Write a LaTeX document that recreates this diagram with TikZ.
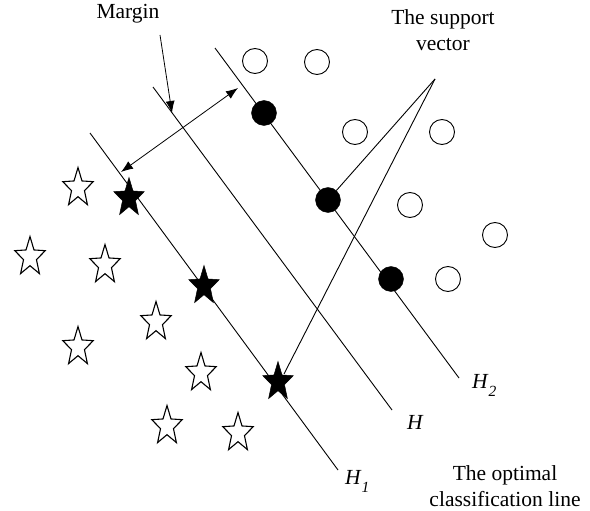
\documentclass[tikz,border=0pt]{standalone}
\usepackage{fontspec}
\setmainfont{Liberation Serif}
\usetikzlibrary{arrows.meta,calc}
\newcommand\drawstar[2]{%
  \draw[#1] ([shift={(-90:16 and 20.5)}]#2)
    -- ([shift={(-54:6.8 and 8.7)}]#2)
    -- ([shift={(-18:16 and 20.5)}]#2)
    -- ([shift={(18:6.8 and 8.7)}]#2)
    -- ([shift={(54:16 and 20.5)}]#2)
    -- ([shift={(90:6.8 and 8.7)}]#2)
    -- ([shift={(126:16 and 20.5)}]#2)
    -- ([shift={(162:6.8 and 8.7)}]#2)
    -- ([shift={(198:16 and 20.5)}]#2)
    -- ([shift={(234:6.8 and 8.7)}]#2)
    -- cycle;}
\newcommand\hsub[1]{\textit{H}\raisebox{-8pt}{\fontsize{15.5}{16}\selectfont\textit{#1}}}
\begin{document}
\begin{tikzpicture}[x=1pt,y=-1pt,
  hl/.style={line width=0.9pt},
  ocirc/.style={circle,draw,line width=0.9pt,fill=white,minimum size=25pt,inner sep=0pt},
  fcirc/.style={circle,draw,fill=black,minimum size=25pt,inner sep=0pt},
  ostar/.style={draw,line width=1.1pt,fill=white,line join=miter},
  fstar/.style={draw,line width=0.5pt,fill=black,line join=miter},
  lbl/.style={font=\fontsize{21.5}{26}\selectfont,align=center},
  arr/.style={-{Latex[length=12pt,width=9pt]},line width=0.8pt},
  darr/.style={{Latex[length=12pt,width=9pt]}-{Latex[length=12pt,width=9pt]},line width=0.8pt}]
\path[use as bounding box] (0,0) rectangle (590,511);

% hyperplanes
\coordinate (h1a) at (90,133);  \coordinate (h1b) at (338,470);
\coordinate (ha)  at (153,87);  \coordinate (hb)  at (392,410);
\coordinate (h2a) at (215,48);  \coordinate (h2b) at (459,378);
\draw[hl] (h1a) -- (h1b);
\draw[hl] (ha) -- (hb);
\draw[hl] (h2a) -- (h2b);

% labels
\node[lbl] (lm) at (128,14) {Margin};
\node[lbl] (lsv) at (443,30) {The support\\vector};
\node[lbl] (lopt) at (505,486) {The optimal\\classification line};
\node[lbl,anchor=base west,inner sep=0pt] (lh2) at (472,388) {\hsub{2}};
\node[lbl,anchor=base west,inner sep=0pt] (lh) at (407,429) {\textit{H}};
\node[lbl,anchor=base west,inner sep=0pt] (lh1) at (345,484) {\hsub{1}};

% star positions
\coordinate (os1) at (78,188);
\coordinate (os2) at (30,257);
\coordinate (os3) at (105,265);
\coordinate (os4) at (156,322);
\coordinate (os5) at (78,347);
\coordinate (os6) at (201,373);
\coordinate (os7) at (167,426);
\coordinate (os8) at (238,433);
\coordinate (fs1) at (129,198);
\coordinate (fs2) at (204,286);
\coordinate (fs3) at (278,382);

% support vector pointers
\coordinate (apex) at (435,79);

% filled support vectors
\node[fcirc] (fc1) at (264,113) {};
\node[fcirc] (fc2) at (328,200) {};
\node[fcirc] (fc3) at (391,279) {};
\draw[hl] (apex) -- (fc2);
\draw[hl] (apex) -- ($(fs3)+(6,-8)$);

% open circles
\node[ocirc] (oc1) at (255,61) {};
\node[ocirc] (oc2) at (317,62) {};
\node[ocirc] (oc3) at (355,132) {};
\node[ocirc] (oc4) at (442,132) {};
\node[ocirc] (oc5) at (410,205) {};
\node[ocirc] (oc6) at (495,235) {};
\node[ocirc] (oc7) at (448,279) {};

% stars
\drawstar{ostar}{os1}
\drawstar{ostar}{os2}
\drawstar{ostar}{os3}
\drawstar{ostar}{os4}
\drawstar{ostar}{os5}
\drawstar{ostar}{os6}
\drawstar{ostar}{os7}
\drawstar{ostar}{os8}
\drawstar{fstar}{fs1}
\drawstar{fstar}{fs2}
\drawstar{fstar}{fs3}

% margin arrows
\coordinate (ms) at (160,35);
\coordinate (mt) at (172,113);
\draw[arr] (ms) -- (mt);
\coordinate (da) at (238,88);
\coordinate (db) at (121,172);
\draw[darr] (da) -- (db);
\end{tikzpicture}
\end{document}
